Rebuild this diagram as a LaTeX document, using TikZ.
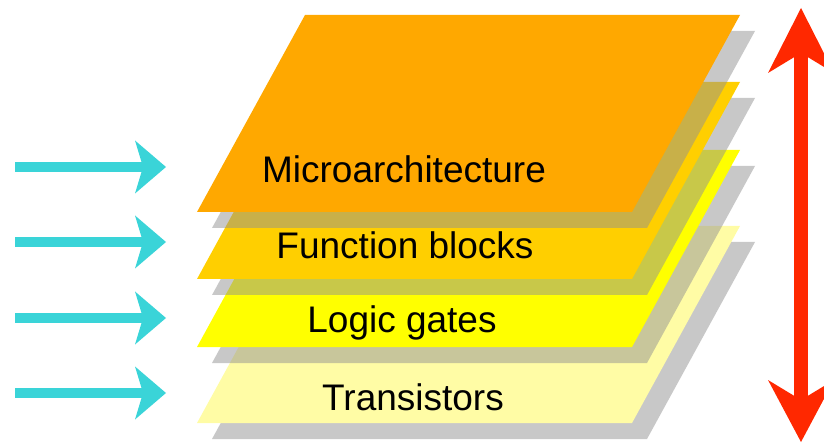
\documentclass[tikz,border=0pt]{standalone}
\usepackage{fontspec}
\setmainfont{Liberation Sans}
\usetikzlibrary{arrows.meta}

\definecolor{microc}{RGB}{255,168,0}
\definecolor{funcc}{RGB}{255,207,0}
\definecolor{logicc}{RGB}{255,255,0}
\definecolor{transc}{RGB}{255,252,165}
\definecolor{shadowc}{RGB}{146,146,146}
\definecolor{levelc}{RGB}{58,212,216}
\definecolor{spanc}{RGB}{255,40,0}

\tikzset{
  layershadow/.style={fill=shadowc, fill opacity=0.5},
  layertext/.style={anchor=base, inner sep=0pt, text=black,
    font=\fontsize{37}{44}\selectfont},
  levelarrow/.style={draw=levelc, line width=10pt,
    -{Stealth[length=31pt, width=53pt, inset=8pt, line width=0pt]}},
  spanarrow/.style={draw=spanc, line width=14pt,
    {Stealth[length=65pt, width=66pt, inset=20pt, line width=0pt]}-{Stealth[length=62pt, width=66pt, inset=20pt, line width=0pt]}}
}

\begin{document}
\begin{tikzpicture}[x=1pt, y=-1pt]
\useasboundingbox (0,0) rectangle (824,443);

% stacked layers, bottom first; each casts a translucent shadow onto the one below
\foreach \b/\c in {423/transc, 347/logicc, 279/funcc, 212/microc} {
  \begin{scope}[shift={(0,\b)}]
    \fill[layershadow, shift={(15,16)}] (197,0) -- (632,0) -- (740,-197) -- (305,-197) -- cycle;
    \fill[\c] (197,0) -- (632,0) -- (740,-197) -- (305,-197) -- cycle;
  \end{scope}
}

% layer labels
\node[layertext] (micro) at (404,183) {Microarchitecture};
\node[layertext] (func)  at (405,259) {Function blocks};
\node[layertext] (logic) at (402,333) {Logic gates};
\node[layertext] (trans) at (413,410) {Transistors};

% arrows pointing at each level
\foreach \y [count=\i] in {167,242,318,393} {
  \coordinate (in\i s) at (15,\y);
  \coordinate (in\i e) at (166,\y);
  \draw[levelarrow] (in\i s) -- (in\i e);
}

% vertical span arrow
\coordinate (spantop) at (801,8);
\coordinate (spanbot) at (801,442);
\draw[spanarrow] (spantop) -- (spanbot);
\end{tikzpicture}
\end{document}
